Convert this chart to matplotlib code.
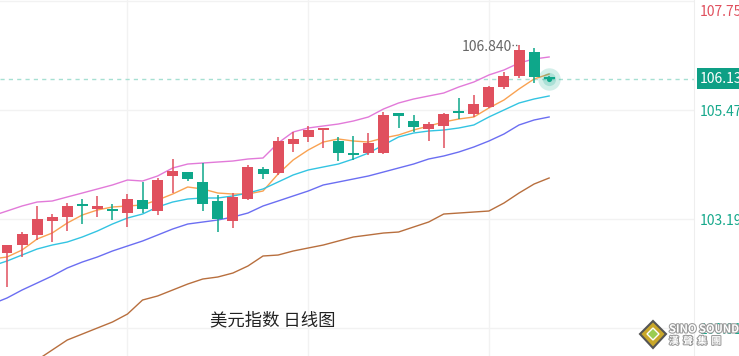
import numpy as np
import matplotlib
matplotlib.use("Agg")
import matplotlib.pyplot as plt
import matplotlib.patheffects as pe
from matplotlib.transforms import blended_transform_factory
from matplotlib.patches import Polygon

plt.rcParams['font.family'] = ['Noto Sans CJK SC', 'DejaVu Sans']

# daily candles (open, high, low, close)
opens = [102.484, 102.651, 102.860, 103.153, 103.237, 103.508, 103.404, 103.404, 103.320, 103.592,
         103.362, 104.094, 104.177, 103.968, 103.571, 103.153, 103.613, 104.240, 104.156, 104.762,
         104.909, 105.055, 104.825, 104.574, 104.574, 104.574, 105.410, 105.243, 105.076, 105.139,
         105.452, 105.389, 105.536, 105.954, 106.184, 106.685, 106.160]
highs = [102.651, 102.923, 103.467, 103.299, 103.529, 103.613, 103.676, 103.508, 103.717, 103.968,
         104.052, 104.449, 104.177, 104.365, 103.697, 103.738, 104.324, 104.282, 104.909, 105.013,
         105.139, 105.097, 104.909, 104.930, 104.992, 105.431, 105.410, 105.369, 105.222, 105.410,
         105.724, 105.787, 105.975, 106.267, 106.840, 106.769, 106.180]
lows = [101.774, 102.401, 102.756, 102.714, 102.944, 103.090, 103.237, 103.174, 103.028, 103.320,
        103.279, 103.738, 103.989, 103.362, 102.923, 103.007, 103.592, 104.031, 104.115, 104.595,
        104.804, 104.679, 104.407, 104.428, 104.532, 104.553, 105.097, 105.013, 104.825, 104.679,
        105.285, 105.327, 105.515, 105.912, 106.142, 106.037, 106.100]
closes = [102.651, 102.881, 103.195, 103.237, 103.467, 103.467, 103.467, 103.362, 103.613, 103.404,
          104.010, 104.198, 104.031, 103.508, 103.195, 103.655, 104.282, 104.135, 104.825, 104.867,
          105.055, 105.097, 104.574, 104.532, 104.783, 105.369, 105.348, 105.118, 105.180, 105.389,
          105.410, 105.598, 105.954, 106.184, 106.727, 106.163, 106.130]

# indicator lines, one value per bar starting one bar before the first candle
ma_orange = [102.359, 102.401, 102.547, 102.777, 102.902, 103.111, 103.279, 103.383, 103.446, 103.467,
             103.488, 103.592, 103.717, 103.864, 103.822, 103.738, 103.717, 103.717, 103.780, 104.135,
             104.428, 104.637, 104.804, 104.867, 104.825, 104.804, 104.888, 104.951, 105.055, 105.139,
             105.222, 105.285, 105.327, 105.515, 105.682, 105.912, 106.121, 106.225]
ma_cyan = [102.213, 102.317, 102.443, 102.568, 102.651, 102.714, 102.819, 102.944, 103.090, 103.216,
           103.299, 103.446, 103.550, 103.613, 103.634, 103.634, 103.676, 103.738, 103.822, 103.968,
           104.115, 104.219, 104.282, 104.344, 104.449, 104.574, 104.741, 104.909, 104.992, 105.034,
           105.055, 105.097, 105.160, 105.327, 105.473, 105.619, 105.703, 105.766]
ma_blue = [101.418, 101.544, 101.711, 101.857, 102.004, 102.171, 102.296, 102.401, 102.526, 102.631,
           102.735, 102.860, 102.986, 103.090, 103.132, 103.174, 103.237, 103.320, 103.467, 103.571,
           103.676, 103.780, 103.906, 103.968, 104.031, 104.094, 104.177, 104.261, 104.344, 104.449,
           104.512, 104.595, 104.700, 104.825, 104.971, 105.160, 105.264, 105.327]
ma_brown = [99.725, 99.872, 100.039, 100.248, 100.457, 100.666, 100.791, 100.917, 101.042, 101.209,
            101.502, 101.586, 101.711, 101.836, 101.941, 101.983, 102.066, 102.213, 102.422, 102.442,
            102.526, 102.589, 102.651, 102.735, 102.819, 102.860, 102.902, 102.923, 103.028, 103.132,
            103.299, 103.320, 103.341, 103.362, 103.529, 103.738, 103.926, 104.052]
band_pink = [103.258, 103.362, 103.467, 103.550, 103.571, 103.655, 103.738, 103.822, 103.906, 104.010,
             103.989, 104.094, 104.261, 104.344, 104.365, 104.386, 104.407, 104.449, 104.470, 104.783,
             105.013, 105.097, 105.139, 105.180, 105.243, 105.327, 105.494, 105.619, 105.703, 105.766,
             105.828, 105.954, 106.058, 106.205, 106.309, 106.455, 106.539, 106.581]

grid_levels = [107.751, 105.473, 103.195, 100.917]
grid_bars = [8, 20, 32]
last_price = 106.130
high_mark = 106.840
title = "美元指数 日线图"

RED = '#e0505e'
GREEN = '#0ea78a'

fig = plt.figure(figsize=(7.39, 3.56), dpi=100)
ax = fig.add_axes([0, 0, 694 / 739, 1])
ax.set_xlim(-0.465, 45.62)
ax.set_ylim(100.332, 107.772)
for s in ['top', 'left', 'bottom']:
    ax.spines[s].set_visible(False)
ax.spines['right'].set_color('#eeeeee')
ax.set_xticks([])
ax.set_yticks([])

for g in grid_levels:
    ax.axhline(g, color='#f2f2f2', lw=1, zorder=0)
for b in grid_bars:
    ax.axvline(b, color='#f2f2f2', lw=1, zorder=0)

ax.axhline(last_price, color='#a6e0d2', lw=1, dashes=(3, 3), zorder=1)

o = np.array(opens)
h = np.array(highs)
l = np.array(lows)
c = np.array(closes)
idx = np.arange(len(o))
cols = [RED if cc >= oo else GREEN for oo, cc in zip(o, c)]
ax.vlines(idx, l, h, colors=cols, lw=1.1, zorder=3)
body_bot = np.minimum(o, c)
body_h = np.maximum(np.abs(c - o), 0.04)
ax.bar(idx, body_h, bottom=body_bot, width=0.73, color=cols, zorder=4)

xl = np.arange(-1, len(o))
ax.plot(xl, band_pink, color='#e27ad9', lw=1, zorder=2)
ax.plot(xl, ma_orange, color='#f9a252', lw=1, zorder=2)
ax.plot(xl, ma_cyan, color='#33c4e2', lw=1, zorder=2)
ax.plot(xl, ma_blue, color='#6b6ef2', lw=1, zorder=2)
ax.plot(xl, ma_brown, color='#b86f3e', lw=1, zorder=2)

# latest price marker
last = len(o) - 1
ax.scatter([last], [last_price], s=260, color='#0ea78a', alpha=0.18, zorder=5, linewidths=0)
ax.scatter([last], [last_price], s=90, color='#0ea78a', alpha=0.2, zorder=5, linewidths=0)
ax.scatter([last], [last_price], s=14, color='#0ea78a', zorder=6, linewidths=0)

# high annotation
hi_i = int(np.argmax(h))
ax.text(hi_i - 0.47, high_mark - 0.05, f"{high_mark:.3f}", ha='right', va='center',
        fontsize=10, color='#666666', zorder=6)
ax.plot([hi_i - 0.45, hi_i], [high_mark, high_mark], color='#666666', lw=1,
        linestyle=(0, (1, 1.5)), zorder=6)

# right price labels
tr = blended_transform_factory(ax.transAxes, ax.transData)
x_lab = 700 / 694
ax.text(x_lab, 107.52, f"{grid_levels[0]:.3f}", transform=tr, ha='left', va='center',
        fontsize=10, color=RED, clip_on=False)
for g in grid_levels[1:]:
    ax.text(x_lab, g - 0.04, f"{g:.3f}", transform=tr, ha='left', va='center',
            fontsize=10, color='#17a98c', clip_on=False)
ax.text(x_lab, last_price, f"{last_price:.3f}", transform=tr, ha='left', va='center',
        fontsize=10, color='white', clip_on=False,
        bbox=dict(boxstyle='square,pad=0.25', fc='#0e9f85', ec='none'))

fig.text(273 / 739, 1 - 320 / 356, title, ha='center', va='center', fontsize=12.5, color='#222222')

# watermark logo
fig.patches.append(Polygon([[653 / 739, 1 - 321 / 356], [666 / 739, 1 - 334 / 356],
                            [653 / 739, 1 - 348 / 356], [640 / 739, 1 - 334 / 356]],
                           closed=True, transform=fig.transFigure, fc='#c9a72a', ec='#555555', lw=1.5))
fig.patches.append(Polygon([[653 / 739, 1 - 328 / 356], [659 / 739, 1 - 334 / 356],
                            [653 / 739, 1 - 340 / 356], [647 / 739, 1 - 334 / 356]],
                           closed=True, transform=fig.transFigure, fc='#9acd52', ec='white', lw=1))
logo_fx = [pe.withStroke(linewidth=1.5, foreground='#9a9a9a')]
fig.text(669 / 739, 1 - 329 / 356, "SINO SOUND", ha='left', va='center', fontsize=8,
         fontweight='bold', color='white', path_effects=logo_fx, zorder=10)
fig.text(669 / 739, 1 - 341 / 356, "漢  聲  集  團", ha='left', va='center', fontsize=7,
         fontweight='bold', color='white', path_effects=logo_fx, zorder=10)

fig.savefig('out.png', dpi=100)
